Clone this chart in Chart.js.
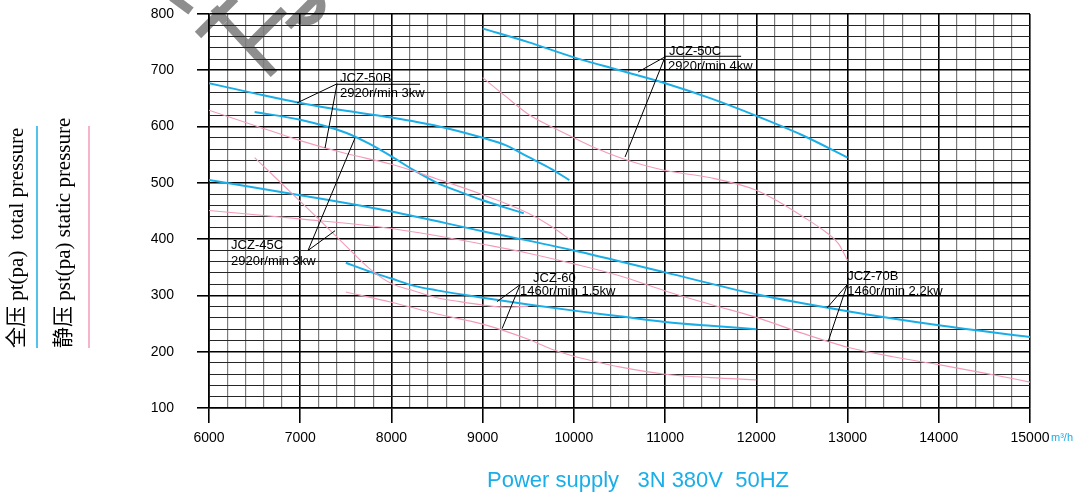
<!DOCTYPE html>
<html><head><meta charset="utf-8">
<script src="https://cdn.jsdelivr.net/npm/chart.js@4.4.1/dist/chart.umd.min.js"></script>
<style>html,body{margin:0;padding:0;background:#fff;overflow:hidden}#wrap{width:1088px;height:495px;position:relative}</style>
</head><body><div id="wrap"><canvas id="c" width="1088" height="495"></canvas></div>
<script>
// ---- tick labels ----
const xTickLabels = [6000, 7000, 8000, 9000, 10000, 11000, 12000, 13000, 14000, 15000];
const yTickLabels = [100, 200, 300, 400, 500, 600, 700, 800];

// ---- JCZ-50B 2920r/min 3kw ----
const q50B   = [6000, 6500, 7000, 7500, 8000, 8500, 9000, 9250, 9500, 9750, 9950];
const pt50B  = [677, 659, 642, 628, 616, 601, 580, 567, 546, 525, 505];
const q50Bs  = [6000, 6500, 7000, 7500, 8000, 8500, 9000, 9500, 9750, 9960];
const pst50B = [629, 602, 575, 552, 533, 507, 479, 446, 423, 399];

// ---- JCZ-45C 2920r/min 3kw ----
const q45C   = [6500, 7000, 7500, 7750, 8000, 8250, 8500, 8750, 9000, 9250, 9450];
const pt45C  = [626, 612, 589, 570, 547, 522, 500, 484, 469, 456, 446];
const q45Cs  = [6500, 6750, 7000, 7250, 7500, 7750, 8000, 8250, 8500, 8750, 9000, 9250, 9500];
const pst45C = [545, 506, 467, 428, 388, 349, 321, 308, 296, 289, 283, 279, 281];

// ---- JCZ-50C 2920r/min 4kw ----
const q50C   = [9000, 9500, 10000, 10500, 11000, 11500, 12000, 12500, 13000];
const pt50C  = [774, 750, 723, 700, 677, 650, 619, 585, 545];
const q50Cs  = [9000, 9250, 9500, 9750, 10000, 10250, 10500, 10750, 11000, 11500, 12000, 12250, 12500, 12750, 12900, 13000];
const pst50C = [687, 654, 622, 600, 580, 561, 545, 532, 522, 509, 487, 466, 441, 414, 392, 362];

// ---- JCZ-70B 1460r/min 2.2kw ----
const q70B   = [6000, 7000, 8000, 9000, 10000, 11000, 12000, 13000, 14000, 15000];
const pt70B  = [505, 478, 449, 414, 380, 341, 302, 272, 247, 226];
const q70Bs  = [6000, 7000, 8000, 8500, 9000, 9500, 10000, 10500, 11000, 11500, 12000, 12500, 13000, 13500, 14000, 14500, 15000];
const pst70B = [451, 436, 419, 406, 391, 375, 356, 335, 308, 284, 261, 233, 208, 191, 177, 162, 146];

// ---- JCZ-60 1460r/min 1.5kw ----
const q60    = [7500, 7750, 8000, 8250, 8500, 9000, 9500, 10000, 10500, 11000, 11500, 12000];
const pt60   = [358, 343, 330, 317, 309, 296, 284, 273, 263, 253, 246, 240];
const q60s   = [7500, 8000, 8500, 9000, 9500, 9750, 10000, 10250, 10500, 11000, 11500, 12000];
const pst60  = [306, 288, 267, 249, 222, 205, 192, 182, 173, 160, 154, 150];

const BLUE = '#1aaee8';
const PINK = '#f29bb8';

function series(xs, ys, total) {
  return {
    data: xs.map((x, i) => ({ x: x, y: ys[i] })),
    borderColor: total ? BLUE : PINK,
    borderWidth: total ? 2 : 1.1,
    pointRadius: 0,
    fill: false,
    cubicInterpolationMode: 'monotone'
  };
}

// annotations: anchor and targets in data units, text offsets in px
const notes = [
  { name: 'JCZ-50B', sub: '2920r/min 3kw', anchor: [7404, 676], targets: [[6965, 642], [7272, 562]], l1: [3, -2], l2: [3, 13], ul: [0, 83, 0] },
  { name: 'JCZ-50C', sub: '2920r/min 4kw', anchor: [11000, 724], targets: [[10704, 697], [10561, 546]], l1: [4, -2], l2: [3, 13], ul: [0, 76, -1] },
  { name: 'JCZ-45C', sub: '2920r/min 3kw', anchor: [7086, 380], targets: [[7601, 580], [7382, 415]], l1: [-77, -1], l2: [-77, 15] },
  { name: 'JCZ-60', sub: '1460r/min 1.5kw', anchor: [9410, 319], targets: [[9158, 289], [9213, 241]], l1: [13, -3], l2: [0, 10] },
  { name: 'JCZ-70B', sub: '1460r/min 2.2kw', anchor: [12996, 319], targets: [[12776, 278], [12787, 218]], l1: [0, -5], l2: [0, 10] }
];

const decor = {
  id: 'decor',
  beforeDraw(chart) {
    const ctx = chart.ctx;
    ctx.save();
    ctx.fillStyle = '#fff';
    ctx.fillRect(0, 0, chart.width, chart.height);
    // watermark strokes (decoration)
    ctx.strokeStyle = '#8e8e8e';
    ctx.lineWidth = 9;
    ctx.lineCap = 'butt';
    const strokes = [
      [[172, -3], [191, 11]],
      [[198, 35], [235, -2]],
      [[226, 22], [274, 74]],
      [[214, 8], [226, 22]],
      [[247, 47], [284, 10]],
      [[288, 26], [316, -2]]
    ];
    strokes.forEach(s => { ctx.beginPath(); ctx.moveTo(s[0][0], s[0][1]); for (let i = 1; i < s.length; i++) ctx.lineTo(s[i][0], s[i][1]); ctx.stroke(); });
    ctx.beginPath();
    ctx.arc(306, 6, 15, -0.25 * Math.PI, 0.75 * Math.PI);
    ctx.stroke();
    ctx.restore();
  },
  afterDraw(chart) {
    const ctx = chart.ctx;
    const xs = chart.scales.x, ys = chart.scales.y;
    ctx.save();
    // annotations
    ctx.strokeStyle = '#000';
    ctx.fillStyle = '#000';
    ctx.lineWidth = 1;
    ctx.font = '13px "Liberation Sans", Arial, sans-serif';
    ctx.textBaseline = 'alphabetic';
    ctx.textAlign = 'left';
    notes.forEach(n => {
      const ax = xs.getPixelForValue(n.anchor[0]);
      const ay = ys.getPixelForValue(n.anchor[1]);
      n.targets.forEach(t => {
        ctx.beginPath();
        ctx.moveTo(ax, ay);
        ctx.lineTo(xs.getPixelForValue(t[0]), ys.getPixelForValue(t[1]));
        ctx.stroke();
      });
      if (n.ul) {
        ctx.beginPath();
        ctx.moveTo(ax + n.ul[0], ay + n.ul[2] + 0.5);
        ctx.lineTo(ax + n.ul[1], ay + n.ul[2] + 0.5);
        ctx.stroke();
      }
      ctx.fillText(n.name, ax + n.l1[0], ay + n.l1[1]);
      ctx.fillText(n.sub, ax + n.l2[0], ay + n.l2[1]);
    });
    // unit
    ctx.fillStyle = BLUE;
    ctx.font = '11px "Liberation Sans", Arial, sans-serif';
    ctx.textBaseline = 'middle';
    ctx.fillText('m³/h', xs.right + 21, xs.top + 30);
    // power supply
    ctx.font = '22px "Liberation Sans", Arial, sans-serif';
    ctx.fillText('Power supply   3N 380V  50HZ', 487, 481);
    // left legend
    ctx.fillStyle = '#000';
    ctx.textBaseline = 'middle';
    ctx.font = '21px "Liberation Serif", "Noto Sans CJK SC", serif';
    ctx.save();
    ctx.translate(17, 348);
    ctx.rotate(-Math.PI / 2);
    ctx.fillText('全压 pt(pa)  total pressure', 0, 0);
    ctx.restore();
    ctx.save();
    ctx.translate(64, 348);
    ctx.rotate(-Math.PI / 2);
    ctx.fillText('静压 pst(pa) static pressure', 0, 0);
    ctx.restore();
    ctx.lineWidth = 1.5;
    ctx.strokeStyle = BLUE;
    ctx.beginPath(); ctx.moveTo(37, 126); ctx.lineTo(37, 348); ctx.stroke();
    ctx.strokeStyle = PINK;
    ctx.beginPath(); ctx.moveTo(89, 126); ctx.lineTo(89, 348); ctx.stroke();
    ctx.restore();
  }
};

new Chart(document.getElementById('c'), {
  type: 'line',
  data: {
    datasets: [
      series(q50B, pt50B, true), series(q50Bs, pst50B, false),
      series(q45C, pt45C, true), series(q45Cs, pst45C, false),
      series(q50C, pt50C, true), series(q50Cs, pst50C, false),
      series(q70B, pt70B, true), series(q70Bs, pst70B, false),
      series(q60, pt60, true), series(q60s, pst60, false)
    ]
  },
  options: {
    responsive: false,
    animation: false,
    devicePixelRatio: 1,
    layout: { padding: { top: 14, right: 58, left: 0, bottom: 0 } },
    plugins: { legend: { display: false }, tooltip: { enabled: false } },
    scales: {
      x: {
        type: 'linear', min: 6000, max: 15000,
        afterFit(s) { s.height = 87; },
        grid: {
          color: c => (c.tick && c.tick.value % 1000 === 0) ? '#000' : '#7c7c7c',
          lineWidth: c => (c.tick && c.tick.value % 1000 === 0) ? 1.6 : 1.2,
          tickColor: c => (c.tick && c.tick.value % 1000 === 0) ? '#000' : 'rgba(0,0,0,0)',
          tickLength: 15, tickWidth: 1.6
        },
        border: { color: '#000', width: 1.6 },
        ticks: {
          stepSize: 200, autoSkip: false, maxRotation: 0, padding: 7,
          color: '#000', font: { family: '"Liberation Sans", Arial, sans-serif', size: 14 },
          callback: v => xTickLabels.includes(v) ? String(v) : ''
        }
      },
      y: {
        type: 'linear', min: 100, max: 800,
        afterFit(s) { s.width = 209; s.paddingTop = 0; s.paddingBottom = 0; },
        grid: {
          color: c => (c.tick && c.tick.value % 100 === 0) ? '#000' : '#262626',
          lineWidth: c => (c.tick && c.tick.value % 100 === 0) ? 1.6 : 1,
          tickColor: c => (c.tick && c.tick.value % 100 === 0) ? '#000' : 'rgba(0,0,0,0)',
          tickLength: 12, tickWidth: 1.6
        },
        border: { color: '#000', width: 1.6 },
        ticks: {
          stepSize: 20, autoSkip: false, padding: 23,
          color: '#000', font: { family: '"Liberation Sans", Arial, sans-serif', size: 14 },
          callback: v => yTickLabels.includes(v) ? String(v) : ''
        }
      }
    }
  },
  plugins: [decor]
});
</script>
</body></html>
